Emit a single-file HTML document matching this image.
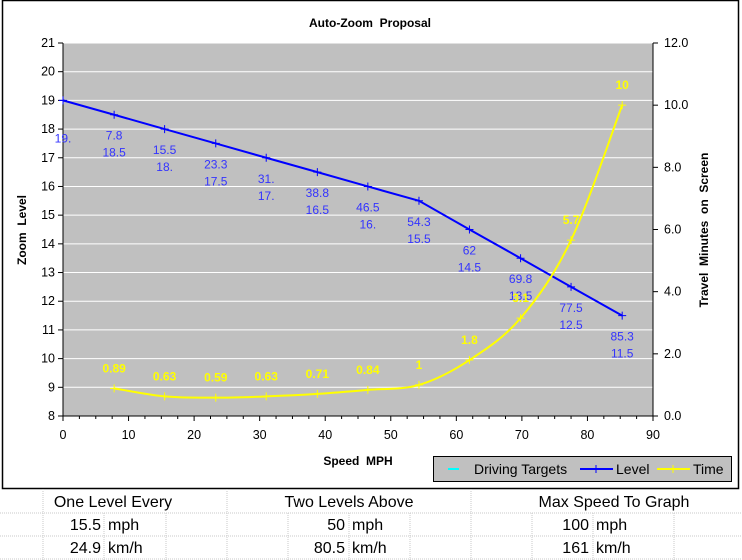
<!DOCTYPE html>
<html><head><meta charset="utf-8"><style>
body{margin:0;background:#fff;width:742px;height:560px;overflow:hidden;font-family:"Liberation Sans",Arial,sans-serif}
svg{position:absolute;left:0;top:0}
text{white-space:pre}
</style></head><body>
<svg id="s" width="742" height="560" xmlns="http://www.w3.org/2000/svg" font-family="Liberation Sans, Arial, sans-serif"></svg>
<script>
const X=v=>63+v*590/90, YL=v=>416-(v-8)*373/13, YR=v=>416-v*373/12;
let h='';
h+='<rect x="0" y="0" width="742" height="560" fill="#fff"/>';
h+='<rect x="2.5" y="0.5" width="736" height="488" fill="#fff" stroke="#000" stroke-width="1.5"/>';
h+='<rect x="63" y="43" width="590" height="373" fill="#c0c0c0" stroke="#808080"/>';
for(let v=9;v<=21;v++){let y=YL(v);h+=`<line x1="63" x2="653" y1="${y}" y2="${y}" stroke="#fff" stroke-width="1"/>`;}
h+='<line x1="63" y1="43" x2="63" y2="416" stroke="#000"/><line x1="653" y1="43" x2="653" y2="416" stroke="#000"/><line x1="63" y1="416" x2="653" y2="416" stroke="#000"/>';
for(let v=8;v<=21;v++){let y=YL(v);h+=`<line x1="58" x2="63" y1="${y}" y2="${y}" stroke="#000"/><text x="55" y="${y+4}" font-size="12.5" text-anchor="end">${v}</text>`;}
for(let v=0;v<=12;v+=2){let y=YR(v);h+=`<line x1="653" x2="658" y1="${y}" y2="${y}" stroke="#000"/><text x="664" y="${y+4}" font-size="12.5">${v.toFixed(1)}</text>`;}
for(let v=0;v<=90;v+=2.5){let x=X(v);h+=`<line x1="${x}" x2="${x}" y1="416" y2="${v%10==0?421:419}" stroke="#000"/>`;}
for(let v=0;v<=90;v+=10){h+=`<text x="${X(v)}" y="439" font-size="12.5" text-anchor="middle">${v}</text>`;}
h+='<text x="370" y="27" font-size="12" font-weight="bold" text-anchor="middle">Auto-Zoom  Proposal</text>';
h+='<text x="358" y="465" font-size="12" font-weight="bold" text-anchor="middle">Speed  MPH</text>';
h+='<text transform="translate(26,230) rotate(-90)" font-size="12" font-weight="bold" text-anchor="middle">Zoom  Level</text>';
h+='<text transform="translate(708,230) rotate(-90)" font-size="12" font-weight="bold" text-anchor="middle">Travel  Minutes  on  Screen</text>';
const L=[[0,19],[7.8,18.5],[15.5,18],[23.3,17.5],[31,17],[38.8,16.5],[46.5,16],[54.3,15.5],[62,14.5],[69.8,13.5],[77.5,12.5],[85.3,11.5]];
const LL=[['','19.'],['7.8','18.5'],['15.5','18.'],['23.3','17.5'],['31.','17.'],['38.8','16.5'],['46.5','16.'],['54.3','15.5'],['62','14.5'],['69.8','13.5'],['77.5','12.5'],['85.3','11.5']];
h+='<polyline fill="none" stroke="#0000ff" stroke-width="2" points="'+L.map(p=>X(p[0])+','+YL(p[1])).join(' ')+'"/>';
L.forEach((p,i)=>{let x=X(p[0]),y=YL(p[1]);h+=`<path d="M${x-4} ${y}h8M${x} ${y-4}v8" stroke="#0000ff"/>`;
h+=`<text x="${x}" y="${y+25}" font-size="12" fill="#3333ff" text-anchor="middle">${LL[i][0]}</text><text x="${x}" y="${y+42}" font-size="12" fill="#3333ff" text-anchor="middle">${LL[i][1]}</text>`;});
const T=[[7.8,0.89],[15.5,0.63],[23.3,0.59],[31,0.63],[38.8,0.71],[46.5,0.84],[54.3,1],[62,1.8],[69.8,3.15],[77.5,5.66],[85.3,10]];
const TL=['0.89','0.63','0.59','0.63','0.71','0.84','1','1.8','3.1','5.7','10'];
const P=T.map(p=>[X(p[0]),YR(p[1])]);
let d='M'+P[0][0]+' '+P[0][1];
for(let i=0;i<P.length-1;i++){const p0=P[Math.max(i-1,0)],p1=P[i],p2=P[i+1],p3=P[Math.min(i+2,P.length-1)];
d+=` C${p1[0]+(p2[0]-p0[0])/6} ${p1[1]+(p2[1]-p0[1])/6} ${p2[0]-(p3[0]-p1[0])/6} ${p2[1]-(p3[1]-p1[1])/6} ${p2[0]} ${p2[1]}`;}
h+=`<path d="${d}" fill="none" stroke="#ffff00" stroke-width="2"/>`;
P.forEach((p,i)=>{h+=`<path d="M${p[0]-4} ${p[1]}h8M${p[0]} ${p[1]-4}v8" stroke="#ffff00"/><text x="${p[0]}" y="${p[1]-16}" font-size="12" font-weight="bold" fill="#ffff00" text-anchor="middle">${TL[i]}</text>`;});
h+='<rect x="433.5" y="456.5" width="298" height="25" fill="#c0c0c0" stroke="#000"/>';
h+='<line x1="448" x2="459" y1="469" y2="469" stroke="#00ffff" stroke-width="2"/><text x="474" y="474" font-size="14">Driving Targets</text>';
h+='<line x1="580" x2="613" y1="469" y2="469" stroke="#0000ff" stroke-width="2"/><path d="M596 465v8" stroke="#0000ff"/><text x="616" y="474" font-size="14">Level</text>';
h+='<line x1="657" x2="690" y1="469" y2="469" stroke="#ffff00" stroke-width="2"/><path d="M673 465v8" stroke="#ffff00"/><text x="693" y="474" font-size="14">Time</text>';
[43,104,166,227,288,349,410,471,532,593,674].forEach(x=>{h+=`<line x1="${x}" x2="${x}" y1="${x==43||x==227||x==471?489:513}" y2="560" stroke="#c8c8c8" stroke-dasharray="1,1"/>`;});
[513,536,559].forEach(y=>{h+=`<line x1="0" x2="742" y1="${y}" y2="${y}" stroke="#c8c8c8" stroke-dasharray="1,1"/>`;});
const tx=(x,y,s,a)=>h+=`<text x="${x}" y="${y}" font-size="16" text-anchor="${a||'start'}">${s}</text>`;
tx(113,507,'One Level Every','middle');tx(349,507,'Two Levels Above','middle');tx(614,507,'Max Speed To Graph','middle');
tx(101,530,'15.5','end');tx(108,530,'mph');tx(101,553,'24.9','end');tx(108,553,'km/h');
tx(345,530,'50','end');tx(352,530,'mph');tx(345,553,'80.5','end');tx(352,553,'km/h');
tx(589,530,'100','end');tx(596,530,'mph');tx(589,553,'161','end');tx(596,553,'km/h');
document.getElementById('s').innerHTML=h;
</script>
</body></html>
